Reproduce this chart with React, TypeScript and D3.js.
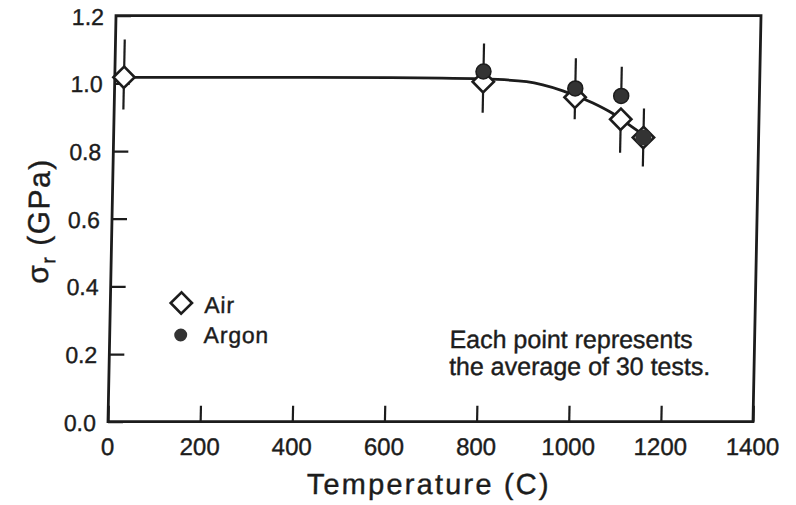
import * as d3 from 'd3';
import React, { useEffect, useRef } from 'react';

const airTemps = [20, 800, 1000, 1100, 1150];
const airStrength = [1.018, 1.005, 0.959, 0.894, 0.84];
const airErrLow = [0.923, 0.913, 0.894, 0.795, 0.754];
const airErrHigh = [1.13, 1.005, 0.959, 0.894, 0.926];

const argonTemps = [800, 1000, 1100];
const argonStrength = [1.035, 0.985, 0.963];
const argonErrHigh = [1.118, 1.074, 1.049];

// hand drawn trend line
const fitTemps = [20, 300, 600, 800, 894, 973, 1039, 1076, 1124, 1165];
const fitStrength = [1.018, 1.018, 1.017, 1.013, 1.005, 0.978, 0.942, 0.916, 0.872, 0.833];

const xTicks = [0, 200, 400, 600, 800, 1000, 1200, 1400];
const yTicks = [0, 0.2, 0.4, 0.6, 0.8, 1.0, 1.2];

const FONT = '"Liberation Sans", Arial, sans-serif';
const INK = '#1c1c1c';

const App = () => {
  const ref = useRef<SVGSVGElement>(null);

  useEffect(() => {
    const width = 796, height = 505;
    const left = 108, right = 753, top = 15.7, bottom = 421.7;

    const svg = d3.select(ref.current);
    svg.selectAll('*').remove();
    svg.attr('width', width).attr('height', height);

    // the scan is slightly sheared, top edge sits further right
    const g = svg.append('g')
      .attr('transform', `translate(0,${bottom}) skewX(-1.13) translate(0,${-bottom})`);

    const x = d3.scaleLinear().domain([0, 1400]).range([left, right]);
    const y = d3.scaleLinear().domain([0, 1.2]).range([bottom, top]);

    // frame
    g.append('rect')
      .attr('x', left).attr('y', top)
      .attr('width', right - left).attr('height', bottom - top)
      .attr('fill', 'none').attr('stroke', INK).attr('stroke-width', 2.8);

    // axes with inward ticks
    const xAxis = g.append('g')
      .attr('transform', `translate(0,${bottom})`)
      .call(d3.axisTop(x).tickValues(xTicks).tickSize(16).tickFormat(() => ''));
    xAxis.select('.domain').remove();
    xAxis.selectAll('line').attr('stroke', INK).attr('stroke-width', 2.2);

    const yAxis = g.append('g')
      .attr('transform', `translate(${left},0)`)
      .call(d3.axisRight(y).tickValues(yTicks).tickSize(15).tickFormat(() => ''));
    yAxis.select('.domain').remove();
    yAxis.selectAll('line').attr('stroke', INK).attr('stroke-width', 2.2);

    // scanned print looks a bit heavier than plain text
    const ink = (sel: any) => sel.attr('fill', INK).attr('stroke', INK).attr('stroke-width', 0.4);

    g.selectAll('.xlab')
      .data(xTicks)
      .join('text')
      .attr('x', d => x(d))
      .attr('y', 455)
      .attr('text-anchor', 'middle')
      .attr('font-family', FONT)
      .attr('font-size', 24)
      .call(ink)
      .text(d => d);

    g.selectAll('.ylab')
      .data(yTicks)
      .join('text')
      .attr('x', left - 12)
      .attr('y', d => y(d) + 9)
      .attr('text-anchor', 'end')
      .attr('font-family', FONT)
      .attr('font-size', 23)
      .call(ink)
      .text(d => d.toFixed(1));

    // axis titles
    g.append('text')
      .attr('x', 430).attr('y', 494)
      .attr('text-anchor', 'middle')
      .attr('font-family', FONT).attr('font-size', 29).attr('letter-spacing', 2.2)
      .call(ink)
      .text('Temperature (C)');

    const yTitle = g.append('text')
      .attr('transform', 'translate(45,221) rotate(-90)')
      .attr('text-anchor', 'middle')
      .attr('font-family', FONT).attr('font-size', 30).attr('letter-spacing', 1.5)
      .call(ink);
    yTitle.append('tspan').text('σ');
    yTitle.append('tspan').attr('font-size', 20).attr('dy', 7).text('r');
    yTitle.append('tspan').attr('dy', -7).text(' (GPa)');

    // fitted curve
    const line = d3.line<number>()
      .x((_, i) => x(fitTemps[i]))
      .y(d => y(d))
      .curve(d3.curveMonotoneX);
    g.append('path')
      .attr('d', line(fitStrength))
      .attr('fill', 'none').attr('stroke', INK).attr('stroke-width', 2.8);

    // error bars
    g.selectAll('.airerr')
      .data(airTemps)
      .join('line')
      .attr('x1', d => x(d)).attr('x2', d => x(d))
      .attr('y1', (_, i) => y(airErrLow[i]))
      .attr('y2', (_, i) => y(airErrHigh[i]))
      .attr('stroke', INK).attr('stroke-width', 2.2);

    g.selectAll('.argerr')
      .data(argonTemps)
      .join('line')
      .attr('x1', d => x(d)).attr('x2', d => x(d))
      .attr('y1', (_, i) => y(argonStrength[i]))
      .attr('y2', (_, i) => y(argonErrHigh[i]))
      .attr('stroke', INK).attr('stroke-width', 2.2);

    const diamond = d3.symbol().type(d3.symbolDiamond2).size(290);

    g.selectAll('.air')
      .data(airTemps)
      .join('path')
      .attr('d', diamond)
      .attr('transform', (d, i) => `translate(${x(d)},${y(airStrength[i])})`)
      .attr('fill', '#fff').attr('stroke', INK).attr('stroke-width', 2.6);

    g.selectAll('.argon')
      .data(argonTemps)
      .join('circle')
      .attr('cx', d => x(d))
      .attr('cy', (_, i) => y(argonStrength[i]))
      .attr('r', 7.5)
      .attr('fill', '#333').attr('stroke', INK).attr('stroke-width', 1.5);

    // last point: air and argon on top of each other
    g.append('circle')
      .attr('cx', x(1150)).attr('cy', y(0.84))
      .attr('r', 8)
      .attr('fill', '#333');

    // legend
    g.append('path')
      .attr('d', diamond)
      .attr('transform', 'translate(179,303)')
      .attr('fill', '#fff').attr('stroke', INK).attr('stroke-width', 2.6);
    g.append('text')
      .attr('x', 202).attr('y', 313)
      .attr('font-family', FONT).attr('font-size', 23).attr('letter-spacing', 0.8)
      .call(ink)
      .text('Air');
    g.append('circle')
      .attr('cx', 179).attr('cy', 335).attr('r', 6.5)
      .attr('fill', '#333');
    g.append('text')
      .attr('x', 202).attr('y', 343)
      .attr('font-family', FONT).attr('font-size', 23).attr('letter-spacing', 0.8)
      .call(ink)
      .text('Argon');

    // note
    g.append('text')
      .attr('x', 448).attr('y', 348)
      .attr('font-family', FONT).attr('font-size', 25)
      .call(ink)
      .text('Each point represents');
    g.append('text')
      .attr('x', 448).attr('y', 375)
      .attr('font-family', FONT).attr('font-size', 25)
      .call(ink)
      .text('the average of 30 tests.');
  }, []);

  return (
    <svg
      ref={ref}
      style={{ position: 'absolute', left: 0, top: 0, background: '#fff' }}
    />
  );
};

export default App;
